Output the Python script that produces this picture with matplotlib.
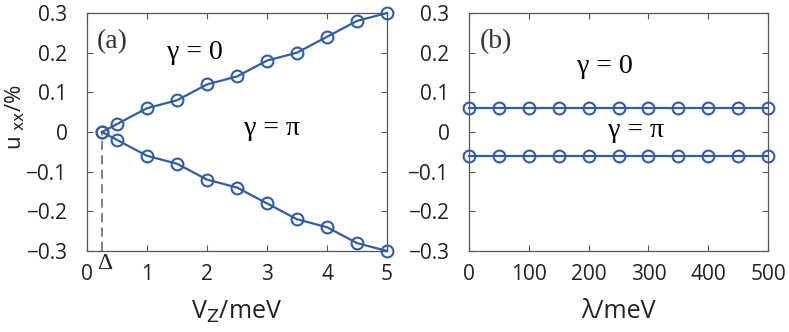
import matplotlib
matplotlib.use("Agg")
import matplotlib.pyplot as plt

vz = [0.25, 0.5, 1.0, 1.5, 2.0, 2.5, 3.0, 3.5, 4.0, 4.5, 5.0]
u_gamma0_a = [0.0, 0.02, 0.06, 0.08, 0.12, 0.14, 0.18, 0.20, 0.24, 0.28, 0.30]
u_gammapi_a = [0.0, -0.02, -0.06, -0.08, -0.12, -0.14, -0.18, -0.22, -0.24, -0.28, -0.30]
lam = [0, 50, 100, 150, 200, 250, 300, 350, 400, 450, 500]
u_gamma0_b = [0.06] * 11
u_gammapi_b = [-0.06] * 11
delta = 0.25

blue = "#2F5DAA"
tickfont = "Open Sans"
serif = "Liberation Serif"

fig = plt.figure(figsize=(7.89, 3.32), dpi=100)
W, H = 789, 332
axA = fig.add_axes([87 / W, 1 - 251 / H, 300 / W, 238 / H])
axB = fig.add_axes([469 / W, 1 - 251 / H, 299 / W, 238 / H])

yt = [-0.3, -0.2, -0.1, 0, 0.1, 0.2, 0.3]
ytl = ["\u22120.3", "\u22120.2", "\u22120.1", "0", "0.1", "0.2", "0.3"]

for ax in (axA, axB):
    ax.set_ylim(-0.3, 0.3)
    ax.set_yticks(yt)
    ax.set_yticklabels(ytl, fontfamily=tickfont, fontsize=15, color="#222222")
    ax.tick_params(direction="in", length=4, width=0.8, top=True, right=True,
                   color="#555555")
    ax.tick_params(axis="y", pad=14)
    ax.tick_params(axis="x", pad=9)
    for s in ax.spines.values():
        s.set_color("#555555")
        s.set_linewidth(0.9)

mk = dict(color=blue, marker="o", markersize=8.5, markerfacecolor="none",
          markeredgewidth=1.5, linewidth=1.6, clip_on=False, zorder=3)

axA.plot(vz, u_gamma0_a, **mk)
axA.plot(vz, u_gammapi_a, **mk)
axA.plot([delta, delta], [-0.3, 0], linestyle=(0, (5, 3)), color="#777777", linewidth=1.3)
axA.set_xlim(0, 5)
axA.set_xticks([0, 1, 2, 3, 4, 5])
axA.set_xticklabels(["0", "1", "2", "3", "4", "5"], fontfamily=tickfont, fontsize=15, color="#222222")
axA.text(delta + 0.05, -0.305, "\u0394", fontfamily=serif, fontsize=17, ha="center", va="top", color="#222222")
axA.set_xlabel("V$_\\mathsf{Z}$/meV", fontfamily=tickfont, fontsize=18, color="#222222")
axA.xaxis.set_label_coords(0.5, -0.2)
axA.set_ylabel("u $_\\mathsf{xx}$/%", fontfamily=tickfont, fontsize=16, color="#222222")
axA.yaxis.set_label_coords(-0.2, 0.563)
axA.text(0.17, 0.227, "(a)", fontfamily=serif, fontsize=20, ha="left", va="center", color="#333333")
axA.text(1.8, 0.2, "\u03b3 = 0", fontfamily=serif, fontsize=20, ha="center", va="center")
axA.text(3.08, 0.01, "\u03b3 = \u03c0", fontfamily=serif, fontsize=20, ha="center", va="center")

axB.plot(lam, u_gamma0_b, **mk)
axB.plot(lam, u_gammapi_b, **mk)
axB.set_xlim(0, 500)
axB.set_xticks(lam[::2])
axB.set_xticklabels([str(v) for v in lam[::2]], fontfamily=tickfont, fontsize=15, color="#222222")
axB.set_xlabel("\u03bb/meV", fontfamily=tickfont, fontsize=18, color="#222222")
axB.xaxis.set_label_coords(0.5, -0.2)
axB.text(18, 0.227, "(b)", fontfamily=serif, fontsize=20, ha="left", va="center", color="#333333")
axB.text(227, 0.164, "\u03b3 = 0", fontfamily=serif, fontsize=20, ha="center", va="center")
axB.text(280, 0.005, "\u03b3 = \u03c0", fontfamily=serif, fontsize=20, ha="center", va="center")

fig.savefig("out.png", dpi=100)
